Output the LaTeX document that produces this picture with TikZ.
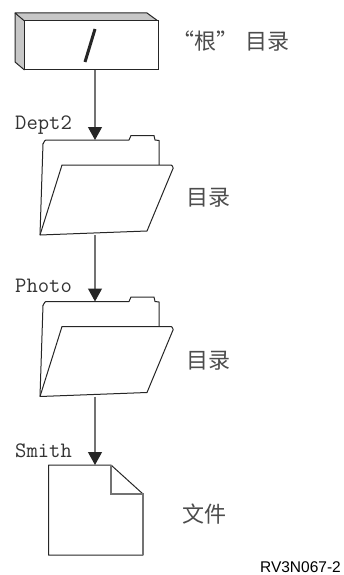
\documentclass[tikz,border=0pt]{standalone}
\usepackage{fontspec}
\setsansfont{Liberation Sans}
\newfontfamily\cjk{Noto Sans CJK SC}
\usetikzlibrary{arrows.meta,positioning}
\definecolor{linegray}{gray}{0.45}
\definecolor{sidegray}{gray}{0.78}
\tikzset{
  iconbox/.style={minimum width=110pt,minimum height=95pt,inner sep=0pt,outer sep=0pt},
  pathlabel/.style={font=\ttfamily\fontsize{22}{22}\selectfont,text=black!80,inner sep=0pt,anchor=west},
  typelabel/.style={font=\cjk\fontsize{22}{22}\selectfont,text=black!70,inner sep=0pt,anchor=west},
  connector/.style={-{Triangle[length=13pt,width=14pt,color=black!85]},line width=1.2pt,draw=linegray},
  outline/.style={draw=black!85,line width=1pt,line join=round}
}
\begin{document}
\begin{tikzpicture}[x=1pt,y=-1pt]
\useasboundingbox (0,0) rectangle (344,575);
% root box
\fill[sidegray] (15,13) -- (24.5,21) -- (24.5,70) -- (15,62) -- cycle;
\fill[sidegray] (15,13) -- (147,13) -- (158,21) -- (24.5,21) -- cycle;
\draw[outline] (24.5,21) -- (15,13) -- (147,13) -- (158,21);
\draw[outline] (15,13) -- (15,62) -- (24.5,70);
\node[draw=black!85,line width=1pt,fill=white,minimum width=133.5pt,minimum height=49pt,inner sep=0pt,outer sep=0pt] (root) at (91.25,45.5) {};
\draw[line width=3pt,draw=black!85] (95,29) -- (85,62);
\node[iconbox] (dept) at (95,187.5) {};
\node[iconbox] (photo) at (95,349) {};
\node[minimum width=94.5pt,minimum height=90pt,inner sep=0pt,outer sep=0pt] (smith) at (95.75,510) {};
% folders
\foreach \name in {dept,photo}{
\begin{scope}[shift={(\name.center)}]
\draw[outline] (-55,47.5) -- (-52,-44) to[out=-90,in=180] (-49,-47.5) -- (34,-47.5) -- (36,-52) -- (59,-52) -- (60,-47.5) -- (64,-47) -- (64,-22.5);
\draw[outline,fill=white] (-33,-22.5) -- (76,-22.5) to[out=0,in=-60] (78,-19) -- (52,43.5) -- (-55,47.5) -- cycle;
\end{scope}
}
% file
\draw[outline] (smith.north west) -- (111,465) -- (143,494) -- (smith.south east) -- (smith.south west) -- cycle;
\draw[draw=linegray,line width=1.2pt] (111,465) -- (111,494) -- (143,494) -- (143,555);
\draw[connector] (root.south -| dept.north) -- (dept.north);
\draw[connector] (dept.south) -- (photo.north);
\draw[connector] (photo.south) -- (smith.north -| photo.south);
\node[pathlabel] (dept2) at (15,125) {Dept2};
\node[pathlabel] (photol) at (15,286) {Photo};
\node[pathlabel] (smithl) at (15,451) {Smith};
\node[typelabel] (rootl) at (172,41) {“根”\hspace{7pt}目录};
\node[typelabel] (dirone) at (186,198) {目录};
\node[typelabel] (dirtwo) at (186,361) {目录};
\node[typelabel] (filel) at (182,514) {文件};
\node[font=\sffamily\fontsize{15.5}{15.5}\selectfont,inner sep=0pt,anchor=east] (figid) at (341,567) {RV3N067-2};
\end{tikzpicture}
\end{document}
